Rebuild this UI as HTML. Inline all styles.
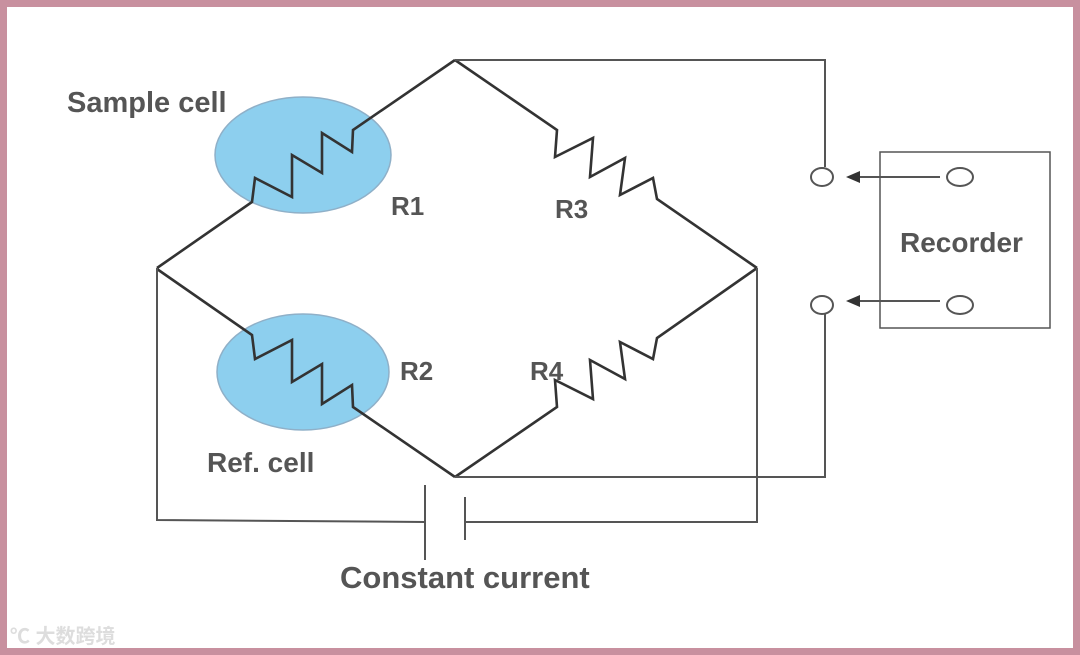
<!DOCTYPE html>
<html><head><meta charset="utf-8"><style>
html,body{margin:0;padding:0;}
body{width:1080px;height:655px;background:#c8909f;position:relative;overflow:hidden;}
#w{position:absolute;left:7px;top:7px;width:1066px;height:641px;background:#fff;}
svg{position:absolute;left:0;top:0;}
text{font-family:"Liberation Sans",sans-serif;font-weight:bold;fill:#555;}
</style></head><body>
<div id="w"></div>
<svg width="1080" height="655" viewBox="0 0 1080 655">
<ellipse cx="303" cy="155" rx="88" ry="58" fill="#8dcfee" stroke="#8fb0c8" stroke-width="1.5"/>
<ellipse cx="303" cy="372" rx="86" ry="58" fill="#8dcfee" stroke="#8fb0c8" stroke-width="1.5"/>
<g fill="none" stroke="#333" stroke-width="2.6" stroke-linejoin="miter">
<polyline points="157,268 252,202 255,178 292,197 292,155 322,173 322,133 352,152 353,130 455,60"/>
<polyline points="157,269 252,335 255,359 292,340 292,382 322,364 322,404 352,385 353,407 455,477"/>
<polyline points="455,60 557,130 555,157 593,138 590,177 625,158 620,195 653,178 657,199 757,268"/>
<polyline points="455,477 557,407 555,380 593,399 590,360 625,379 620,342 653,359 657,338 757,268"/>
</g>
<g fill="none" stroke="#555" stroke-width="2">
<polyline points="455,60 825,60 825,167"/>
<polyline points="455,477 825,477 825,314"/>
<polyline points="157,268 157,520 425,522"/>
<polyline points="465,522 757,522 757,268"/>
<line x1="425" y1="485" x2="425" y2="560"/>
<line x1="465" y1="497" x2="465" y2="540"/>
<ellipse cx="822" cy="177" rx="11" ry="9"/>
<ellipse cx="822" cy="305" rx="11" ry="9"/>
<ellipse cx="960" cy="177" rx="13" ry="9"/>
<ellipse cx="960" cy="305" rx="13" ry="9"/>
<rect x="880" y="152" width="170" height="176" stroke-width="1.5"/>
<line x1="940" y1="177" x2="855" y2="177"/>
<line x1="940" y1="301" x2="855" y2="301"/>
</g>
<polygon points="846,177 860,171 860,183" fill="#333"/>
<polygon points="846,301 860,295 860,307" fill="#333"/>
<text x="67" y="112" font-size="29">Sample cell</text>
<text x="391" y="215" font-size="26">R1</text>
<text x="555" y="218" font-size="26">R3</text>
<text x="400" y="380" font-size="26">R2</text>
<text x="530" y="380" font-size="26">R4</text>
<text x="207" y="472" font-size="28">Ref. cell</text>
<text x="900" y="252" font-size="28">Recorder</text>
<text x="340" y="588" font-size="31">Constant current</text>
<text x="10" y="643" font-size="20" style="fill:#ddd;font-family:'Liberation Sans','Noto Sans CJK SC',sans-serif;">℃ 大数跨境</text>
</svg>
</body></html>
